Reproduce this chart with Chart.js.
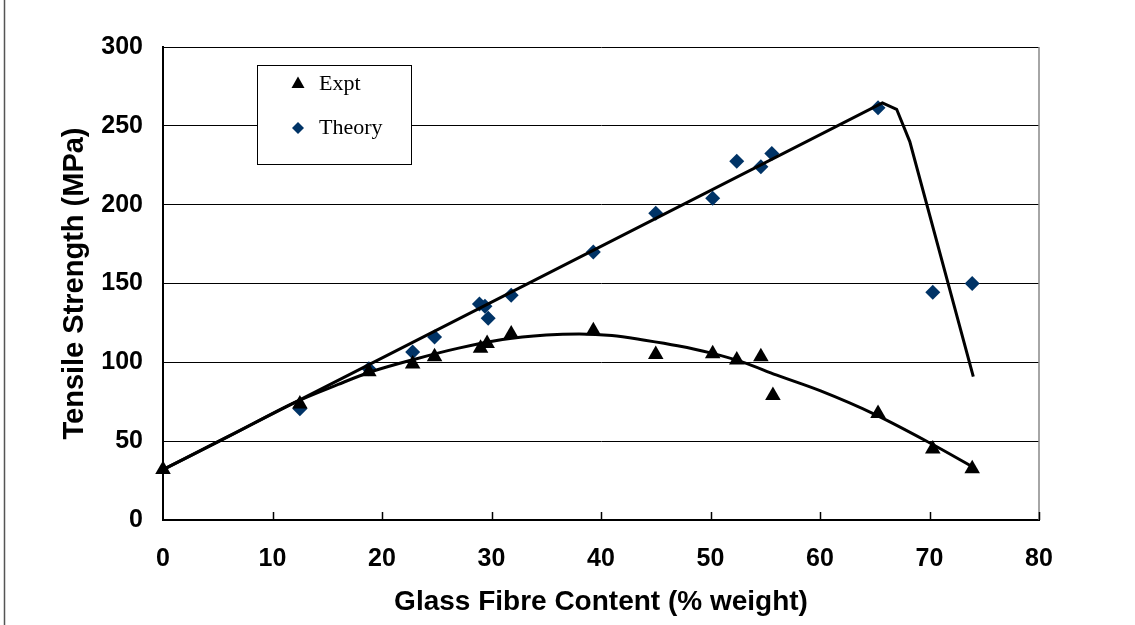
<!DOCTYPE html>
<html>
<head>
  <meta charset="utf-8">
  <title>Tensile Strength vs Glass Fibre Content</title>
  <script src="https://cdn.jsdelivr.net/npm/chart.js"></script>
  <style>
    body {
      background: #ffffff;
      margin: 0;
      padding: 0;
    }
    #wrap {
      width: 1135px;
      height: 625px;
    }
  </style>
</head>
<body>
  <div id="wrap">
    <canvas id="strengthChart" width="1135" height="625"></canvas>
  </div>

  <script>
    const exptFibre = [0, 12.5, 18.8, 22.8, 24.8, 29.0, 29.6, 31.8, 39.3, 45.0, 50.2, 52.4, 54.6, 55.7, 65.3, 70.3, 73.9];
    const exptStrength = [32, 73.5, 94, 99, 103.5, 109, 112, 118, 120, 105, 105.5, 101.5, 103.5, 79, 67.5, 45, 32.5];

    const theoryFibre = [12.5, 18.8, 22.8, 24.8, 28.9, 29.4, 29.7, 31.8, 39.3, 45.0, 50.2, 52.4, 54.6, 55.6, 65.3, 70.3, 73.9];
    const theoryStrength = [70.5, 96, 106.5, 116, 137, 135.5, 128, 142.5, 170, 194.5, 204, 227.5, 224, 232.5, 261.5, 144.5, 150];

    // trend lines
    const exptFitFibre = [0, 6, 12, 16, 19, 23, 27, 31, 35, 38, 41, 44, 47, 50, 53, 56, 60, 65, 70, 74];
    const exptFitStrength = [32, 53, 74.5, 86, 94, 102, 109, 114.5, 117.3, 118, 117, 114, 110.5, 106, 100, 92, 82, 67, 49, 33.5];

    const theoryFitFibre = [0, 65.7, 67.0, 68.2, 74.0];
    const theoryFitStrength = [32, 264.5, 260.5, 240, 91];

    const xTickValues = [0, 10, 20, 30, 40, 50, 60, 70, 80];
    const yTickValues = [0, 50, 100, 150, 200, 250, 300];

    const toPoints = (xs, ys) => xs.map((x, i) => ({ x: x, y: ys[i] }));

    const legendItems = [
      { label: 'Expt', shape: 'triangle', color: '#000000' },
      { label: 'Theory', shape: 'diamond', color: '#003366' }
    ];

    // extras: inner ticks, right border, legend box, page edge
    const decorations = {
      id: 'decorations',
      beforeDatasetsDraw(chart) {
        const ctx = chart.ctx;
        const area = chart.chartArea;
        const xs = chart.scales.x;
        ctx.save();
        ctx.strokeStyle = '#888888';
        ctx.lineWidth = 1.5;
        ctx.beginPath();
        ctx.moveTo(area.right, area.top);
        ctx.lineTo(area.right, area.bottom);
        ctx.stroke();

        ctx.strokeStyle = '#000000';
        ctx.lineWidth = 1.5;
        xTickValues.slice(1).forEach(v => {
          const px = Math.round(xs.getPixelForValue(v)) + 0.5;
          ctx.beginPath();
          ctx.moveTo(px, area.bottom);
          ctx.lineTo(px, area.bottom - 8);
          ctx.stroke();
        });
        ctx.restore();
      },
      afterDraw(chart) {
        const ctx = chart.ctx;
        ctx.save();

        // left edge of the original figure frame
        ctx.strokeStyle = '#555555';
        ctx.lineWidth = 1.5;
        ctx.beginPath();
        ctx.moveTo(4.5, 0);
        ctx.lineTo(4.5, 625);
        ctx.stroke();

        // legend box
        const bx = 257, by = 65, bw = 154, bh = 99;
        ctx.fillStyle = '#ffffff';
        ctx.fillRect(bx, by, bw, bh);
        ctx.strokeStyle = '#000000';
        ctx.lineWidth = 1;
        ctx.strokeRect(bx + 0.5, by + 0.5, bw, bh);

        legendItems.forEach((item, i) => {
          const mx = 298;
          const my = 84 + i * 44;
          ctx.fillStyle = item.color;
          ctx.beginPath();
          if (item.shape === 'triangle') {
            ctx.moveTo(mx, my - 7.5);
            ctx.lineTo(mx + 6.5, my + 4);
            ctx.lineTo(mx - 6.5, my + 4);
          } else {
            ctx.moveTo(mx, my - 6);
            ctx.lineTo(mx + 6, my);
            ctx.lineTo(mx, my + 6);
            ctx.lineTo(mx - 6, my);
          }
          ctx.closePath();
          ctx.fill();

          ctx.fillStyle = '#000000';
          ctx.font = '22px "Liberation Serif", "Times New Roman", serif';
          ctx.textBaseline = 'middle';
          ctx.textAlign = 'left';
          ctx.fillText(item.label, 319, my);
        });
        ctx.restore();
      }
    };

    new Chart(document.getElementById('strengthChart').getContext('2d'), {
      type: 'scatter',
      data: {
        datasets: [
          {
            label: 'Expt fit',
            data: toPoints(exptFitFibre, exptFitStrength),
            showLine: true,
            borderColor: '#000000',
            borderWidth: 3,
            pointRadius: 0,
            cubicInterpolationMode: 'monotone',
            clip: false,
            order: 0
          },
          {
            label: 'Theory fit',
            data: toPoints(theoryFitFibre, theoryFitStrength),
            showLine: true,
            borderColor: '#000000',
            borderWidth: 3,
            pointRadius: 0,
            tension: 0,
            clip: false,
            order: 0
          },
          {
            label: 'Theory',
            data: toPoints(theoryFibre, theoryStrength),
            pointStyle: 'rectRot',
            pointRadius: 7.5,
            backgroundColor: '#003366',
            borderWidth: 0,
            clip: false,
            order: 2
          },
          {
            label: 'Expt',
            data: toPoints(exptFibre, exptStrength),
            pointStyle: 'triangle',
            pointRadius: 9,
            backgroundColor: '#000000',
            borderWidth: 0,
            clip: false,
            order: 1
          }
        ]
      },
      options: {
        responsive: false,
        animation: false,
        layout: {
          padding: { left: 0, top: 47, right: 96, bottom: 0 }
        },
        plugins: {
          legend: { display: false },
          tooltip: { enabled: false }
        },
        scales: {
          x: {
            type: 'linear',
            min: 0,
            max: 80,
            afterBuildTicks: scale => { scale.ticks = xTickValues.map(v => ({ value: v })); },
            afterFit: scale => { scale.height = 105; },
            grid: { display: false, drawTicks: false },
            border: { display: true, color: '#000000', width: 2 },
            ticks: {
              color: '#000000',
              padding: 24,
              maxRotation: 0,
              font: { family: '"Liberation Sans", Arial, sans-serif', size: 25, weight: 'bold' }
            },
            title: {
              display: true,
              text: 'Glass Fibre Content (% weight)',
              color: '#000000',
              padding: { top: 0, bottom: 6 },
              font: { family: '"Liberation Sans", Arial, sans-serif', size: 28, weight: 'bold' }
            }
          },
          y: {
            type: 'linear',
            min: 0,
            max: 300,
            afterBuildTicks: scale => { scale.ticks = yTickValues.map(v => ({ value: v })); },
            afterFit: scale => { scale.width = 163; },
            grid: { color: '#000000', lineWidth: 1, drawTicks: false },
            border: { display: true, color: '#000000', width: 2 },
            ticks: {
              color: '#000000',
              padding: 20,
              font: { family: '"Liberation Sans", Arial, sans-serif', size: 25, weight: 'bold' }
            },
            title: {
              display: true,
              text: 'Tensile Strength (MPa)',
              color: '#000000',
              padding: { top: 58, bottom: 0 },
              font: { family: '"Liberation Sans", Arial, sans-serif', size: 29, weight: 'bold' }
            }
          }
        }
      },
      plugins: [decorations]
    });
  </script>
</body>
</html>
